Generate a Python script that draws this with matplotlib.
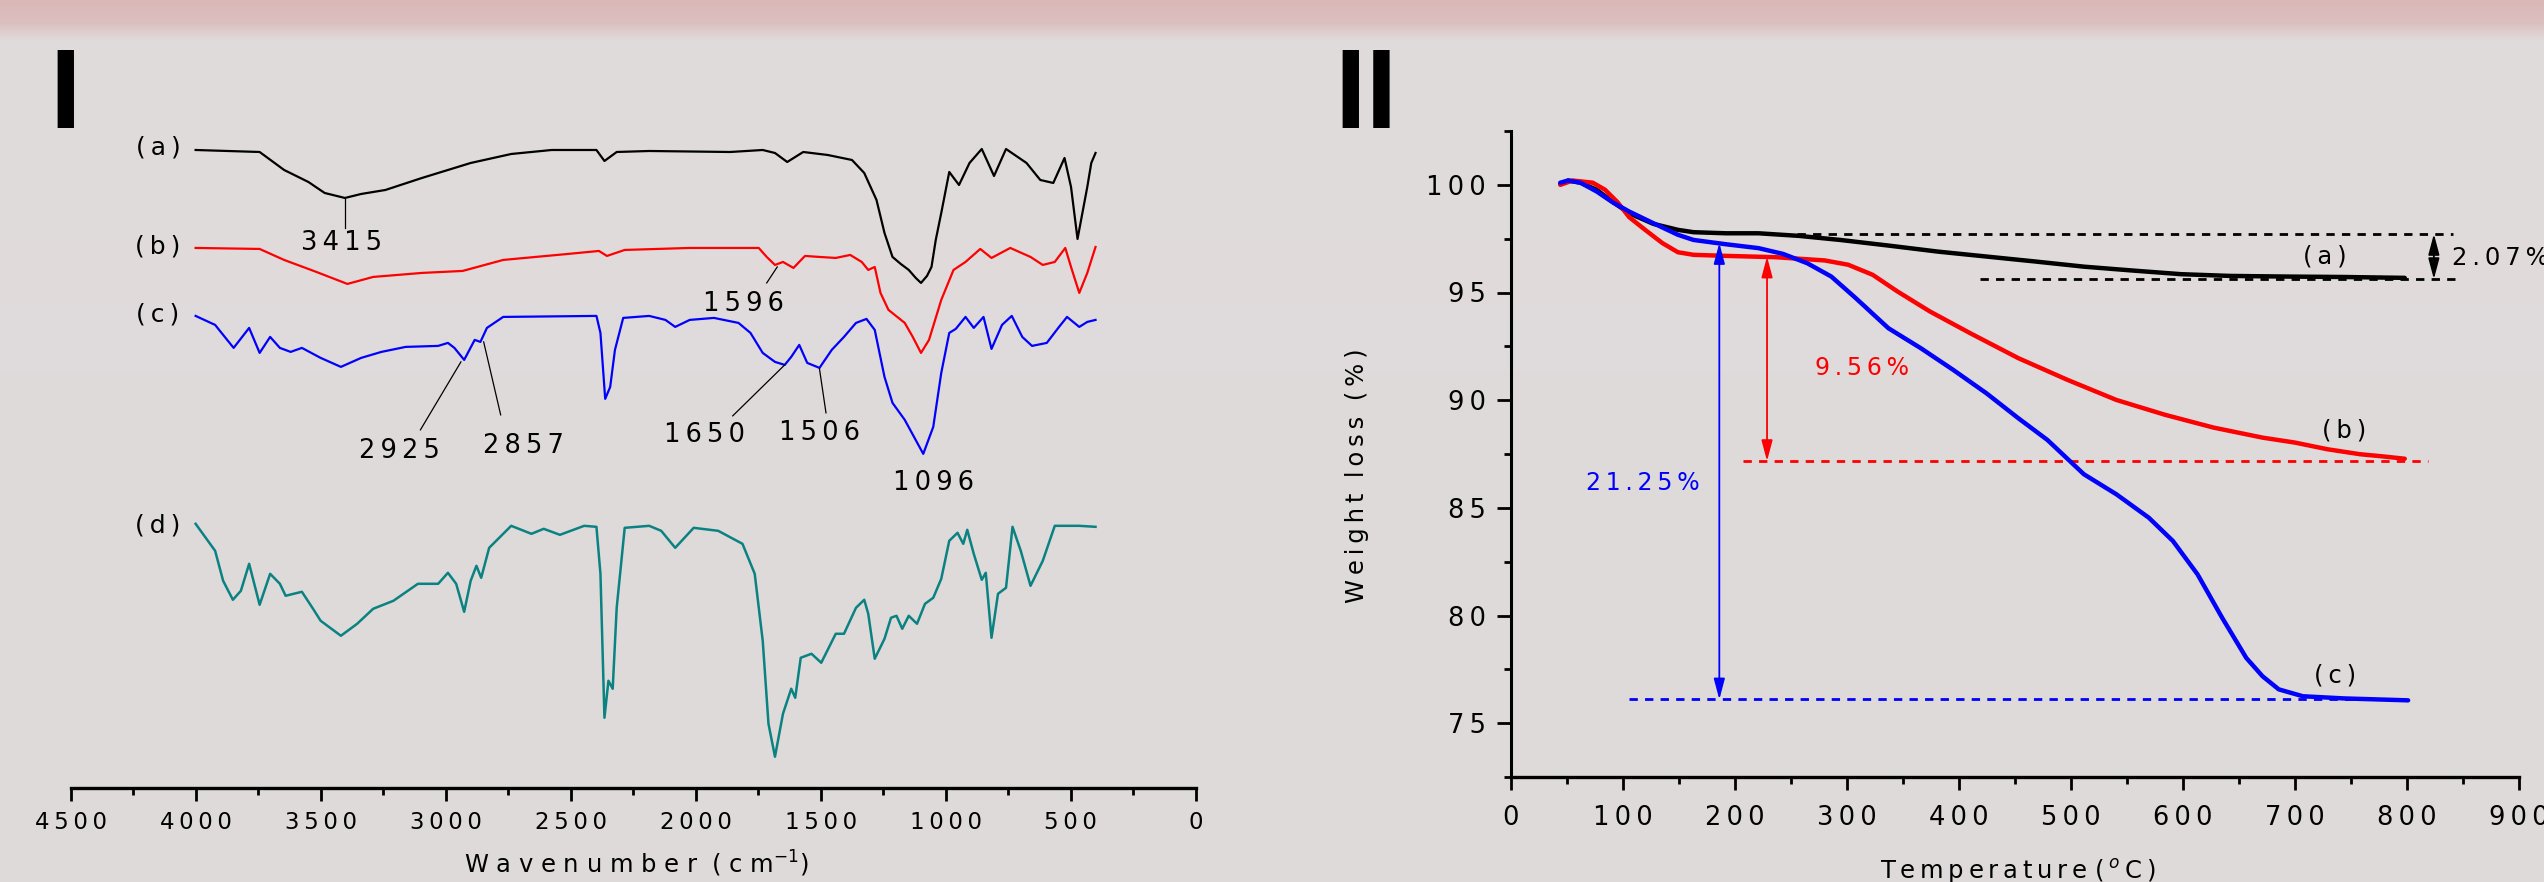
import numpy as np
import matplotlib
matplotlib.use("Agg")
import matplotlib.pyplot as plt
from matplotlib.ticker import MultipleLocator, FuncFormatter

plt.rcParams["font.family"] = ["DejaVu Sans"]

THIN = "\u2009"


def spaced(s, sep=THIN):
    return sep.join(s)


# ---------------- FTIR spectra (panel I), offset transmittance in a.u. ----------------
wn_a = [4000, 3744, 3646, 3549, 3484, 3403, 3338, 3241, 3095, 2900, 2738, 2576, 2397,
        2365, 2316, 2186, 1862, 1732, 1683, 1634, 1570, 1472, 1375, 1326, 1277, 1245,
        1213, 1180, 1148, 1120, 1099, 1075, 1057, 1040, 1018, 986, 947, 905, 856, 807,
        759, 677, 622, 570, 525, 499, 473, 434, 418, 401]
ir_a = [63.8, 63.6, 61.8, 60.6, 59.5, 59.0, 59.4, 59.8, 61.0, 62.5, 63.4, 63.8, 63.8,
        62.7, 63.6, 63.7, 63.6, 63.8, 63.5, 62.6, 63.6, 63.3, 62.8, 61.5, 58.8, 55.5,
        53.1, 52.4, 51.8, 51.0, 50.5, 51.2, 52.1, 54.8, 57.5, 61.6, 60.3, 62.5, 63.9,
        61.2, 63.9, 62.5, 60.8, 60.5, 63.0, 60.1, 54.9, 60.1, 62.5, 63.5]

wn_b = [4000, 3744, 3646, 3517, 3393, 3290, 3095, 2932, 2770, 2511, 2387, 2355, 2284,
        2024, 1748, 1716, 1683, 1651, 1609, 1563, 1505, 1440, 1382, 1336, 1310, 1284,
        1261, 1229, 1164, 1132, 1099, 1067, 1018, 969, 921, 862, 817, 742, 661, 612,
        564, 522, 499, 466, 434, 401]
ir_b = [54.0, 53.9, 52.8, 51.6, 50.4, 51.1, 51.5, 51.7, 52.8, 53.4, 53.7, 53.2, 53.8,
        54.0, 54.0, 53.1, 52.3, 52.6, 52.0, 53.2, 53.1, 53.0, 53.3, 52.6, 51.8, 52.1,
        49.5, 47.8, 46.5, 45.1, 43.5, 44.8, 48.8, 51.8, 52.6, 53.9, 53.0, 54.0, 53.1,
        52.3, 52.6, 54.0, 52.1, 49.5, 51.5, 54.1]

wn_c = [4000, 3922, 3848, 3786, 3744, 3702, 3663, 3620, 3575, 3500, 3419, 3338, 3257,
        3160, 3030, 2991, 2965, 2926, 2884, 2861, 2835, 2770, 2397, 2381, 2362, 2342,
        2323, 2290, 2186, 2121, 2082, 2024, 1927, 1829, 1781, 1732, 1683, 1644, 1618,
        1586, 1554, 1505, 1456, 1407, 1359, 1317, 1284, 1245, 1213, 1164, 1090, 1050,
        1018, 986, 960, 921, 888, 849, 817, 775, 736, 694, 655, 596, 547, 515, 466,
        434, 401]
ir_c = [47.2, 46.3, 44.0, 46.0, 43.5, 45.1, 44.0, 43.6, 44.0, 43.0, 42.1, 43.0, 43.6,
        44.1, 44.2, 44.5, 44.0, 42.8, 44.8, 44.6, 46.0, 47.1, 47.2, 45.5, 38.9, 40.1,
        43.8, 47.0, 47.2, 46.8, 46.1, 46.8, 47.0, 46.5, 45.5, 43.5, 42.6, 42.3, 43.1,
        44.3, 42.5, 42.0, 43.8, 45.1, 46.5, 46.9, 45.8, 41.1, 38.5, 36.8, 33.4, 36.1,
        41.5, 45.5, 45.9, 47.1, 46.0, 47.1, 43.9, 46.3, 47.2, 45.1, 44.2, 44.5, 46.1,
        47.1, 46.1, 46.6, 46.8]

wn_d = [4000, 3922, 3890, 3851, 3819, 3786, 3744, 3702, 3663, 3640, 3608, 3575, 3533,
        3500, 3419, 3354, 3290, 3209, 3111, 3030, 2991, 2958, 2926, 2900, 2877, 2858,
        2826, 2738, 2657, 2608, 2543, 2446, 2397, 2381, 2365, 2349, 2332, 2316, 2284,
        2186, 2138, 2082, 2008, 1910, 1813, 1764, 1732, 1709, 1683, 1651, 1618, 1602,
        1580, 1537, 1498, 1440, 1407, 1359, 1326, 1310, 1284, 1245, 1219, 1197, 1174,
        1148, 1115, 1083, 1050, 1018, 986, 953, 930, 914, 888, 856, 840, 817, 791, 759,
        733, 700, 661, 612, 564, 466, 401]
ir_d = [26.4, 23.7, 20.7, 18.8, 19.7, 22.4, 18.3, 21.4, 20.4, 19.2, 19.4, 19.6, 18.0,
        16.7, 15.2, 16.4, 17.9, 18.7, 20.4, 20.4, 21.5, 20.4, 17.6, 20.7, 22.2, 21.0,
        24.0, 26.2, 25.4, 25.9, 25.3, 26.2, 26.1, 21.4, 7.0, 10.7, 9.9, 18.0, 26.0,
        26.2, 25.7, 24.0, 26.0, 25.7, 24.4, 21.4, 14.7, 6.4, 3.1, 7.4, 9.9, 9.0, 13.0,
        13.4, 12.5, 15.4, 15.4, 18.0, 18.8, 17.4, 12.9, 14.9, 17.0, 17.2, 15.9, 17.2,
        16.4, 18.4, 19.0, 20.9, 24.7, 25.5, 24.4, 25.8, 23.4, 20.8, 21.5, 15.0, 19.4,
        20.0, 26.1, 23.7, 20.2, 22.7, 26.2, 26.2, 26.1]

ir_names = ["(a)", "(b)", "(c)", "(d)"]
ir_name_y = [64.0, 54.1, 47.3, 26.2]

# peak labels: text, label position, leader line (start, end) or None
peak_text = ["3415", "1596", "2925", "2857", "1650", "1506", "1096"]
peak_text_wn = [3415, 1811, 3186, 2687, 1966, 1505, 1049]
peak_text_y = [54.5, 48.4, 33.7, 34.2, 35.3, 35.5, 30.5]
peak_line_wn = [(3403, 3403), (1674, 1716), (2939, 3101), (2848, 2780),
                (1644, 1852), (1505, 1479), None]
peak_line_y = [(58.9, 56.0), (52.1, 50.5), (42.6, 35.8), (44.6, 37.3),
               (42.3, 37.2), (41.9, 37.5), None]

# ---------------- TGA curves (panel II) ----------------
temp_a = [44, 51, 62, 76.5, 91, 105.5, 127, 149, 163, 192, 221, 257, 294, 337, 381,
          424.5, 468, 511.5, 555, 598.5, 642, 693, 743.5, 798]
wl_a = [100.03, 100.2, 100.1, 99.77, 99.2, 98.68, 98.19, 97.91, 97.8, 97.75, 97.75,
        97.63, 97.44, 97.18, 96.9, 96.67, 96.44, 96.2, 96.02, 95.85, 95.77, 95.74,
        95.72, 95.68]

temp_b = [44, 55, 73, 84, 95, 105.5, 120, 135, 149, 163, 192, 236, 280, 301, 323, 345,
          374, 410, 453, 497, 540.5, 584, 627, 671, 700, 729, 758, 780, 798]
wl_b = [100.0, 100.2, 100.1, 99.77, 99.2, 98.5, 97.9, 97.3, 96.87, 96.75, 96.7, 96.64,
        96.49, 96.29, 95.82, 95.05, 94.12, 93.11, 91.95, 90.94, 90.01, 89.32, 88.73,
        88.26, 88.03, 87.72, 87.49, 87.38, 87.28]

temp_c = [44, 51, 62, 76.5, 91, 105.5, 127, 149, 163, 192, 221, 243, 264.5, 286, 308,
          337, 366, 395, 424.5, 453, 479, 511.5, 540.5, 569.5, 591, 613, 635, 656.5, 671,
          685.5, 707, 743.5, 801]
wl_c = [100.1, 100.2, 100.1, 99.69, 99.18, 98.76, 98.22, 97.68, 97.44, 97.24, 97.06,
        96.79, 96.36, 95.74, 94.73, 93.34, 92.41, 91.4, 90.32, 89.16, 88.15, 86.56,
        85.63, 84.54, 83.46, 81.91, 79.89, 78.03, 77.18, 76.57, 76.25, 76.15, 76.06]

loss_a, loss_b, loss_c = "2.07%", "9.56%", "21.25%"

# ---------------- figure ----------------
W, H = 2544, 882
fig = plt.figure(figsize=(W / 100, H / 100), dpi=100)

# backdrop: pale pinkish grey with a reddish band along the top edge
bg = fig.add_axes([0, 0, 1, 1], zorder=-10)
bg.axis("off")
rows = np.arange(H)
stops = [0, 22, 40, H]
band = np.stack([np.interp(rows, stops, [0.86, 0.86, 0.88, 0.875]),
                 np.interp(rows, stops, [0.72, 0.75, 0.86, 0.855]),
                 np.interp(rows, stops, [0.72, 0.75, 0.86, 0.857])], axis=-1)
bg.imshow(band[:, None, :].repeat(8, axis=1), aspect="auto", extent=[0, 1, 0, 1])

# panel I
ax1 = fig.add_axes([70.6 / W, (H - 787.7) / H, 1125.2 / W, 657.7 / H])
ax1.set_facecolor("none")
ax1.plot(wn_a, ir_a, color="black", lw=1.6)
ax1.plot(wn_b, ir_b, color="#ff0000", lw=1.6)
ax1.plot(wn_c, ir_c, color="#0000ff", lw=1.6)
ax1.plot(wn_d, ir_d, color="#0a8282", lw=1.8)
for name, y in zip(ir_names, ir_name_y):
    ax1.text(4150, y, spaced(name), ha="center", va="center", fontsize=18)
for txt, x, y, lx, ly in zip(peak_text, peak_text_wn, peak_text_y, peak_line_wn, peak_line_y):
    ax1.text(x, y, spaced(txt), ha="center", va="center", fontsize=18.5)
    if lx is not None:
        ax1.plot(lx, ly, color="black", lw=0.9)
ax1.set_xlim(4500, 0)
ax1.set_ylim(0, 65.8)
for s in ["left", "right", "top"]:
    ax1.spines[s].set_visible(False)
ax1.spines["bottom"].set_linewidth(2.4)
ax1.set_yticks([])
ax1.xaxis.set_major_locator(MultipleLocator(500))
ax1.xaxis.set_minor_locator(MultipleLocator(250))
ax1.xaxis.set_major_formatter(FuncFormatter(lambda v, p: spaced(f"{v:.0f}")))
ax1.tick_params(axis="x", which="major", length=9, width=2, labelsize=16.5, pad=8)
ax1.tick_params(axis="x", which="minor", length=5, width=2)
ax1.set_xlabel(" ".join("Wavenumber") + "  ( c m$^{-1}$)", fontsize=17.5,
               va="center")
ax1.xaxis.set_label_coords(0.503, -0.116)

# panel II
ax2 = fig.add_axes([1511 / W, (H - 777) / H, 1008 / W, 646 / H])
ax2.set_facecolor("none")
ax2.plot(temp_a, wl_a, color="black", lw=3.2, solid_capstyle="round")
ax2.plot(temp_b, wl_b, color="#ff0000", lw=3.2, solid_capstyle="round")
ax2.plot(temp_c, wl_c, color="#0000ff", lw=3.2, solid_capstyle="round")

dash = (0, (3, 2.6))
ax2.plot([255, 841], [97.72, 97.72], color="black", lw=2, ls=dash, zorder=1)
ax2.plot([419, 846], [95.62, 95.62], color="black", lw=2, ls=dash, zorder=1)
ax2.plot([207, 819], [87.17, 87.17], color="#ff0000", lw=2, ls=dash, zorder=1)
ax2.plot([105, 790], [76.1, 76.1], color="#0000ff", lw=2, ls=dash, zorder=1)

arrow_kw = dict(arrowstyle="<|-|>,head_length=0.45,head_width=0.12", mutation_scale=28,
                shrinkA=0, shrinkB=0, lw=1.3)
ax2.annotate("", xy=(824, 97.72), xytext=(824, 95.62),
             arrowprops=dict(color="black", **arrow_kw))
ax2.annotate("", xy=(228.6, 96.67), xytext=(228.6, 87.17),
             arrowprops=dict(color="#ff0000", **arrow_kw))
ax2.annotate("", xy=(186, 97.3), xytext=(186, 76.1),
             arrowprops=dict(color="#0000ff", **arrow_kw))

ax2.text(840, 96.6, spaced(loss_a), ha="left", va="center", fontsize=17.5)
ax2.text(313.5, 91.5, spaced(loss_b), ha="center", va="center", fontsize=17, color="#ff0000")
ax2.text(118, 86.17, spaced(loss_c), ha="center", va="center", fontsize=17, color="#0000ff")
ax2.text(727, 96.65, spaced("(a)"), ha="center", va="center", fontsize=17.5)
ax2.text(744, 88.6, spaced("(b)"), ha="center", va="center", fontsize=17.5)
ax2.text(736, 77.2, spaced("(c)"), ha="center", va="center", fontsize=17.5)

ax2.set_xlim(0, 900)
ax2.set_ylim(72.5, 102.5)
ax2.spines["top"].set_visible(False)
ax2.spines["right"].set_visible(False)
ax2.spines["left"].set_linewidth(2.2)
ax2.spines["bottom"].set_linewidth(2.4)
ax2.xaxis.set_major_locator(MultipleLocator(100))
ax2.xaxis.set_minor_locator(MultipleLocator(50))
ax2.yaxis.set_minor_locator(MultipleLocator(2.5))
ax2.set_yticks([75, 80, 85, 90, 95, 100])
fmt = FuncFormatter(lambda v, p: spaced(f"{v:.0f}"))
ax2.xaxis.set_major_formatter(fmt)
ax2.yaxis.set_major_formatter(fmt)
ax2.tick_params(axis="x", which="major", length=9, width=2, labelsize=18.5, pad=11)
ax2.tick_params(axis="x", which="minor", length=5, width=2)
ax2.tick_params(axis="y", which="major", length=10, width=2, labelsize=18.5, pad=8)
ax2.tick_params(axis="y", which="minor", length=5, width=2)
ax2.set_ylabel(spaced("Weight") + "  " + spaced("loss") + "  " + spaced("(%)"),
               fontsize=17.5, ha="center", va="center")
ax2.yaxis.set_label_coords(-0.153, 0.466)
ax2.set_xlabel(spaced("Temperature") + " (" + THIN + "$^{o}$" + THIN + "C" + THIN + ")",
               fontsize=17.5, va="top")
ax2.xaxis.set_label_coords(0.503, -0.1245)

# panel labels
fig.text(65 / W, (H - 128) / H, "I", fontsize=82, fontweight="bold",
         family=["Liberation Sans", "DejaVu Sans"], ha="center", va="baseline")
fig.text(1366 / W, (H - 128) / H, "II", fontsize=82, fontweight="bold",
         family=["Liberation Sans", "DejaVu Sans"], ha="center", va="baseline")

fig.savefig("out.png", dpi=100)
